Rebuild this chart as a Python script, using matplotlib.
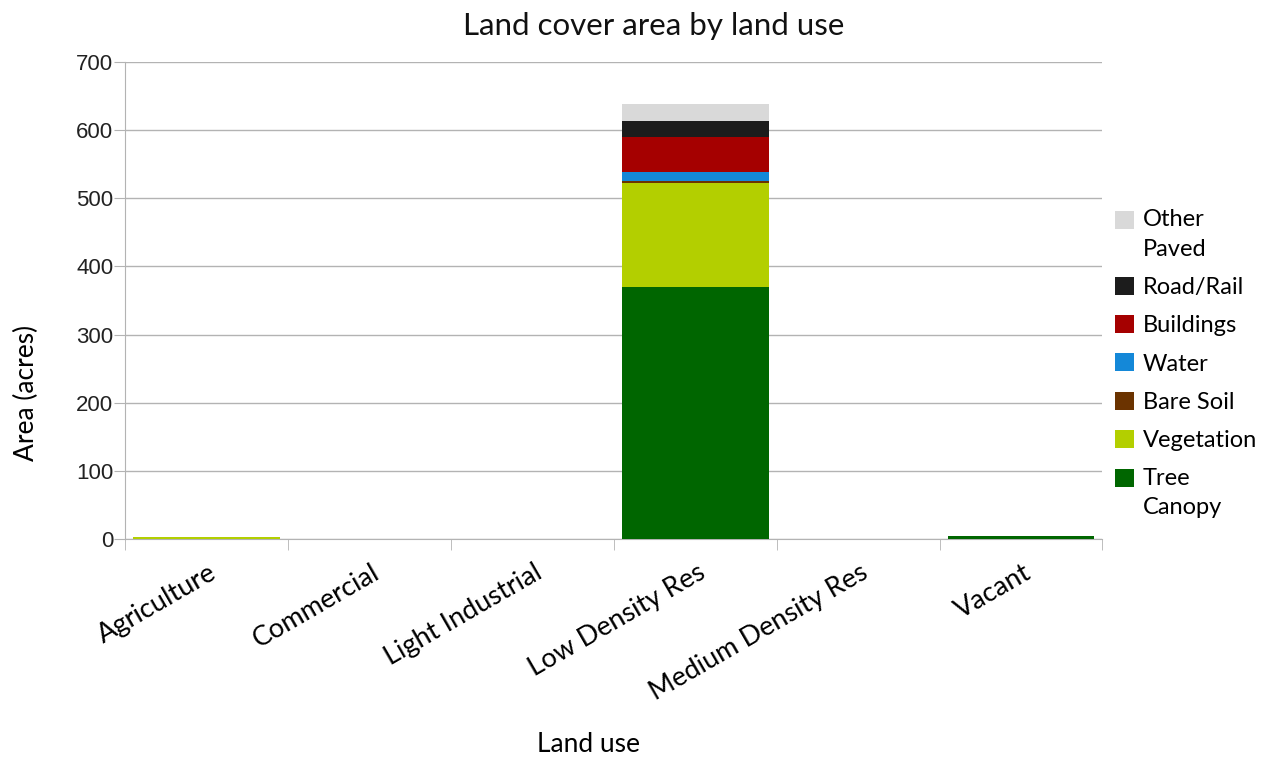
import numpy as np
import matplotlib.pyplot as plt

categories = ["Agriculture", "Commercial", "Light Industrial",
              "Low Density Res", "Medium Density Res", "Vacant"]

# acres per land cover class, one value per land use category
tree_canopy = [0, 0, 0, 370, 0, 4]
vegetation = [3, 0, 0, 153, 0, 0]
bare_soil = [0, 0, 0, 3, 0, 0]
water = [0, 0, 0, 12.5, 0, 0]
buildings = [0, 0, 0, 51, 0, 0]
road_rail = [0, 0, 0, 23.5, 0, 0]
other_paved = [0, 0, 0, 26, 0, 0]

series = [
    ("Tree\nCanopy", tree_canopy, "#006600"),
    ("Vegetation", vegetation, "#b3cf00"),
    ("Bare Soil", bare_soil, "#6b3300"),
    ("Water", water, "#1488d8"),
    ("Buildings", buildings, "#a50000"),
    ("Road/Rail", road_rail, "#1c1c1c"),
    ("Other\nPaved", other_paved, "#d9d9d9"),
]

fig = plt.figure(figsize=(12.79, 7.57), dpi=100)
ax = fig.add_axes([0.0977, 0.288, 0.7643, 0.630])

x = np.arange(len(categories))
bottom = np.zeros(len(categories))
handles = []
for name, vals, color in series:
    vals = np.array(vals, dtype=float)
    h = ax.bar(x, vals, width=0.9, bottom=bottom, color=color, label=name,
               zorder=3)
    handles.append(h)
    bottom += vals

ax.set_xlim(-0.5, len(categories) - 0.5)
ax.set_ylim(0, 700)
ax.set_yticks(range(0, 701, 100))
ax.set_yticklabels([str(v) for v in range(0, 701, 100)],
                   fontfamily="Liberation Sans", fontsize=16, color="#222222")
ax.yaxis.grid(True, color="#b3b3b3", linewidth=1, zorder=0)

ax.set_xticks(x + 0.01)
ax.set_xticklabels(categories, rotation=30, ha="right",
                   rotation_mode="anchor", fontfamily="Lato", fontsize=19.5)
ax.tick_params(axis="x", length=0, pad=15)
ax.set_xticks(np.arange(-0.5, len(categories)), minor=True)
ax.tick_params(axis="x", which="minor", length=8, color="#b3b3b3")
ax.tick_params(axis="y", length=8, color="#b3b3b3", pad=0.5)

for side in ["top", "right"]:
    ax.spines[side].set_visible(False)
ax.spines["left"].set_color("#b3b3b3")
ax.spines["bottom"].set_color("#b3b3b3")

fig.text(0.511, 0.966, "Land cover area by land use", fontfamily="Lato",
         fontsize=22.5, ha="center", va="center", color="#111111")
fig.text(0.46, 0.016, "Land use", fontfamily="Lato", fontsize=19,
         ha="center", va="center")
fig.text(0.021, 0.481, "Area (acres)", fontfamily="Lato", fontsize=19,
         rotation=90, ha="center", va="center")

leg = fig.legend(handles[::-1], [s[0] for s in series][::-1],
                 loc="upper left", bbox_to_anchor=(0.8645, 0.736),
                 frameon=False, prop={"family": "Lato", "size": 17},
                 handlelength=0.8, handleheight=0.8, handletextpad=0.38,
                 labelspacing=0.72, borderaxespad=0)
for t in leg.get_texts():
    t.set_linespacing(1.5)

# two-line entries: lift the swatch up to the first line
for patch, (name, _, _) in zip(leg.legend_handles, series[::-1]):
    if "\n" in name:
        patch.set_y(patch.get_y() + 11)

fig.savefig("out.png", dpi=100, facecolor="white")
